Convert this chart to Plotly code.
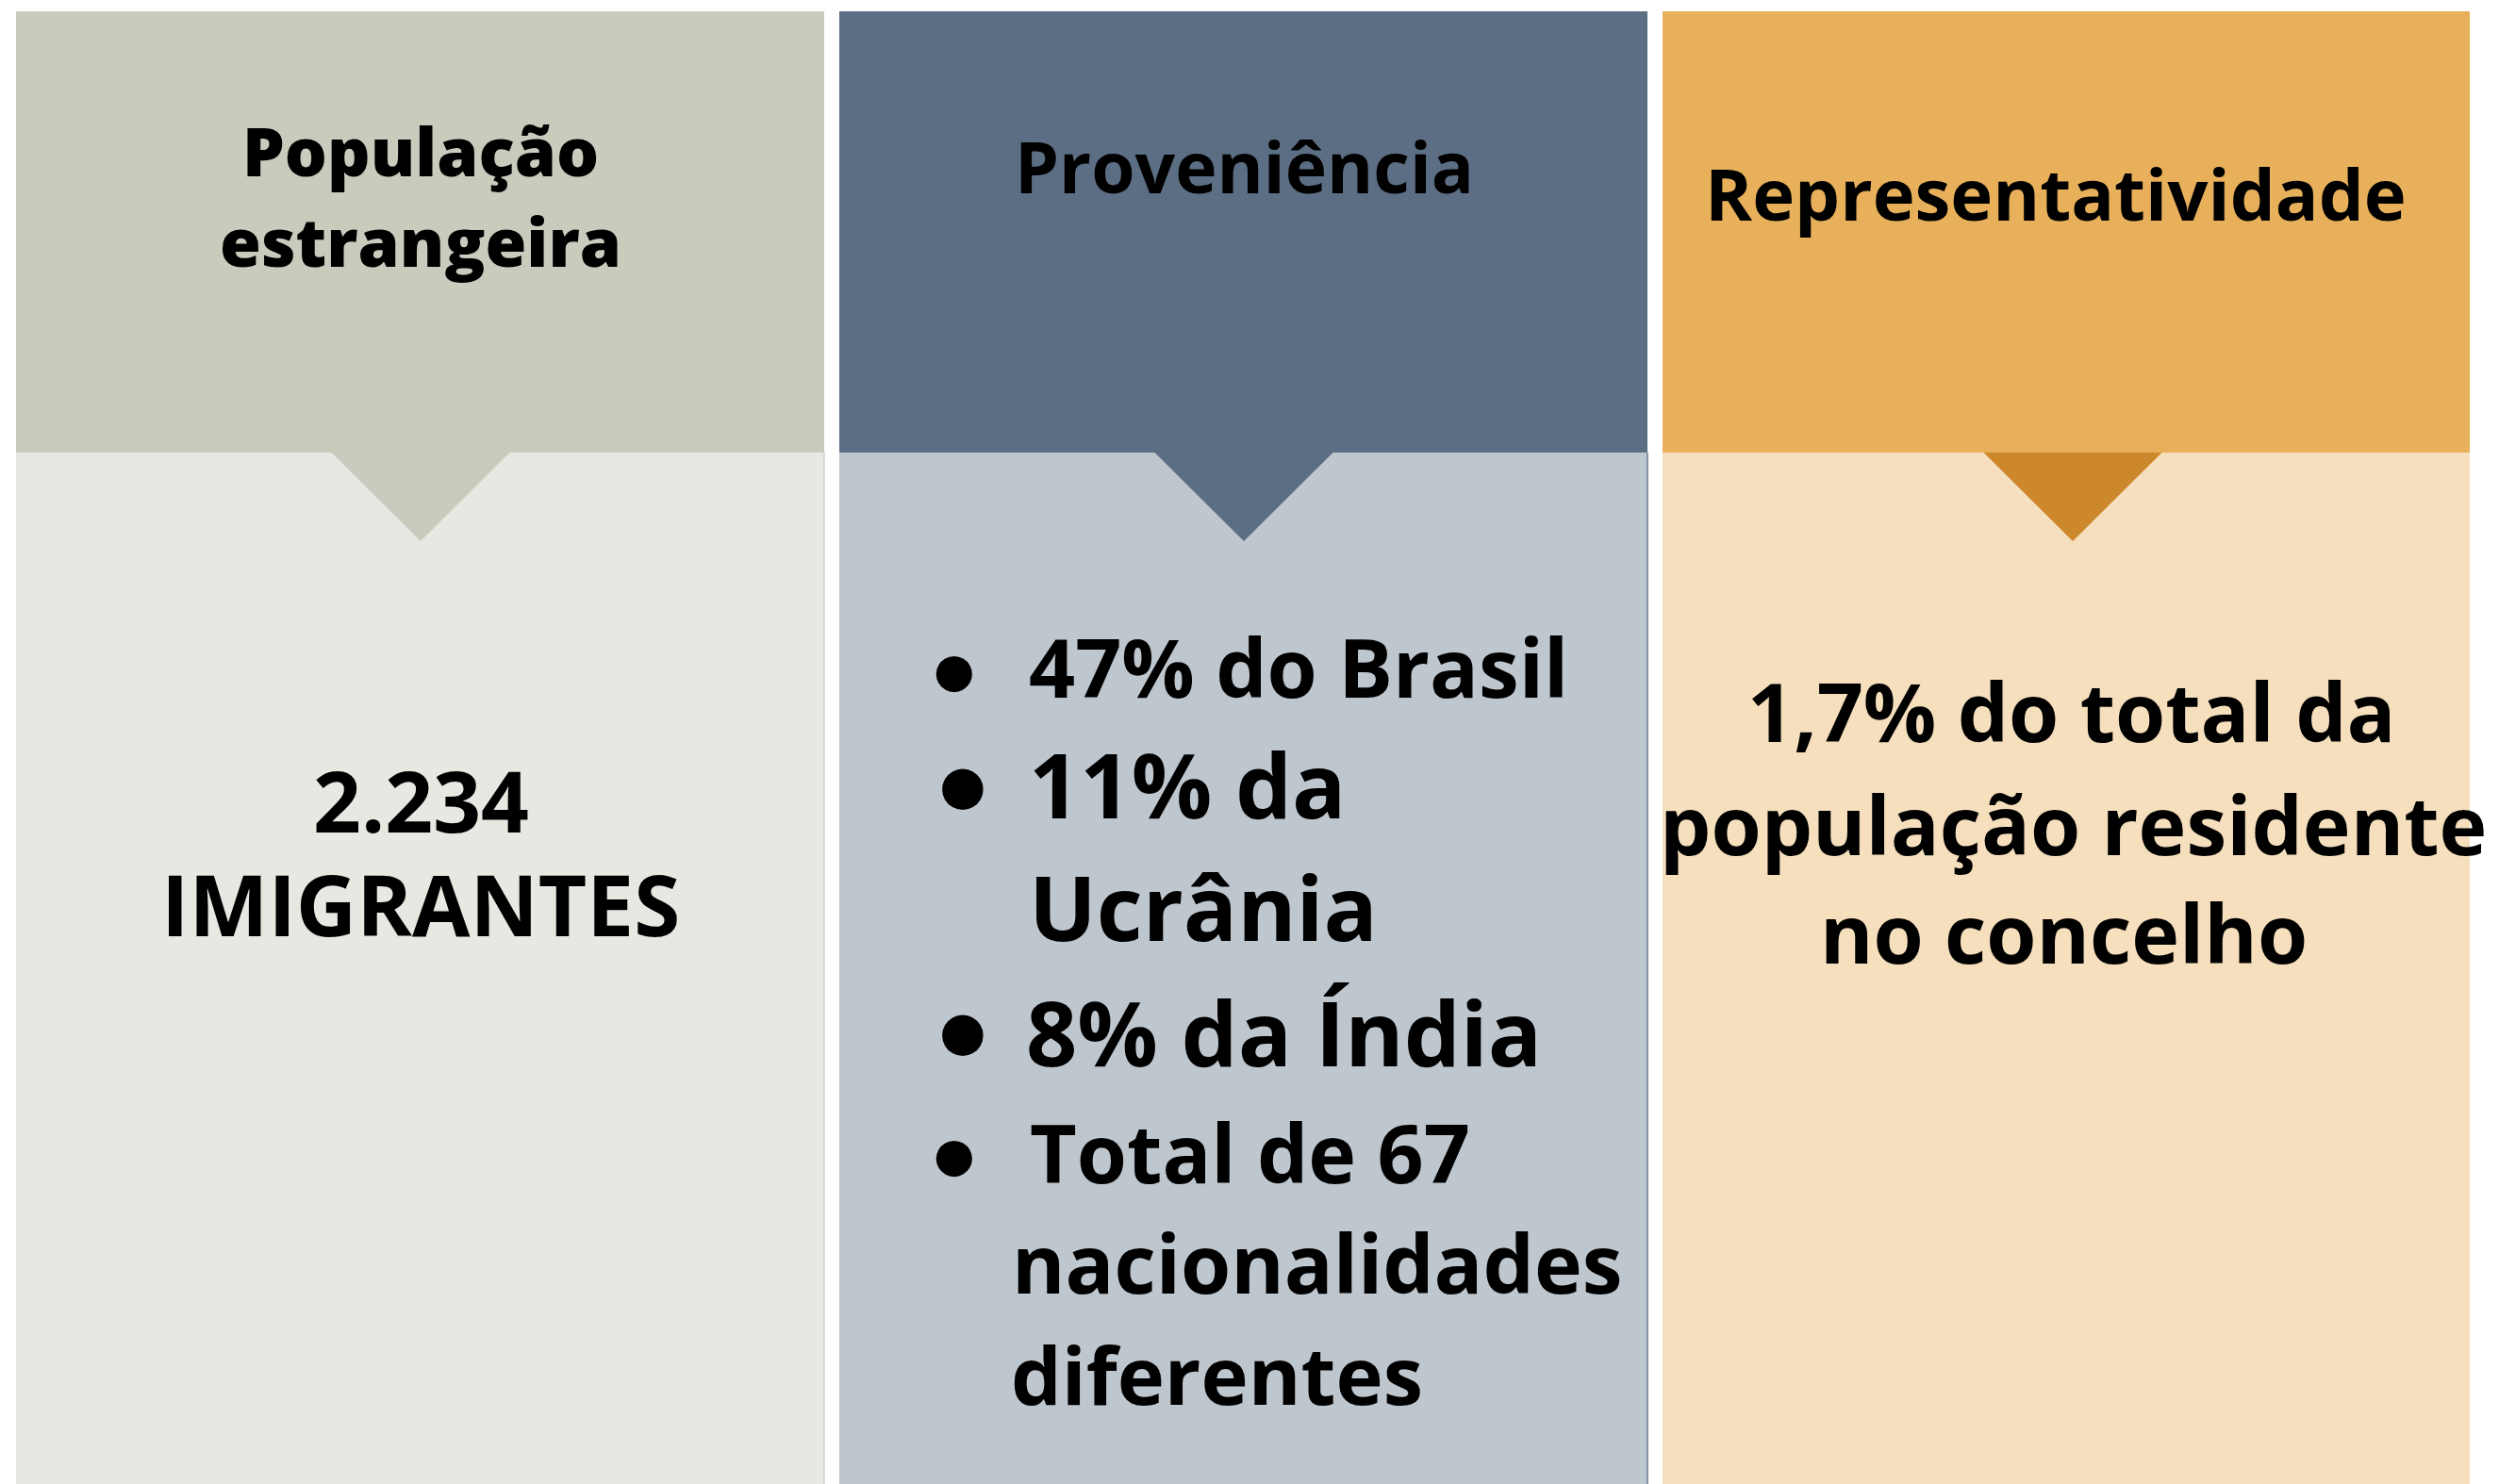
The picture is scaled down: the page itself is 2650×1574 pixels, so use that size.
import plotly.graph_objects as go

# ---------------- data (texts of the infographic) ----------------
panel_titles = [["População", "estrangeira"], ["Proveniência"], ["Representatividade"]]
imigrantes_lines = ["2.234", "IMIGRANTES"]
proveniencia_lines = ["47% do Brasil", "11% da", "Ucrânia", "8% da Índia",
                      "Total de 67", "nacionalidades", "diferentes"]
proveniencia_bullet_rows = [0, 1, 3, 4]
representatividade_lines = ["1,7% do total da", "população residente", "no concelho"]

# ---------------- layout / styling (pixel geometry) ----------------
W, H = 2650, 1574
panel_x = [(17, 874), (890, 1747), (1763, 2619)]
panel_top, header_bottom, panel_bottom = 12, 480, 1574
tri_half, tri_depth = 94.5, 94
tri_cx = [446, 1319, 2198]
header_colors = ["#C8CCBC", "#5C6E84", "#E8B05A"]
body_colors = ["#E8E8E2", "#BEC6CE", "#F5DFBD"]
tri_colors = ["#C8CCBC", "#5C6E84", "#CC882B"]
FONT = "Open Sans"
K = 0.388  # baseline offset from bbox centre, in em

def yc(baseline, size):
    return baseline - K * size

# header text placement
hdr = [
    dict(x=446, base=[187, 283], size=71, weight=800),
    dict(x=1319, base=[205], size=75, weight=700),
    dict(x=2180, base=[234], size=76, weight=700),
]
# panel 1 body
p1_x, p1_base, p1_size = 446, [883, 993], 89
# panel 2 body
p2_x = [1090, 1090, 1090, 1087, 1091, 1072, 1071]
p2_base = [740, 868, 998, 1131, 1255, 1372, 1490]
p2_size = [86, 95, 95, 95, 86, 86, 85]
bul_x = [1012, 1021, 1021, 1012]
bul_y = [711, 832, 1093, 1225]
bul_size = [50, 57, 57, 50]
BULLET = "●"
BULLET_FONT = "DejaVu Sans"
# panel 3 body
p3_x = [2197, 2198, 2188]
p3_base = [787, 907, 1022]
p3_size = 86

fig = go.Figure()
shapes = []
for i, (x0, x1) in enumerate(panel_x):
    shapes.append(dict(type="rect", x0=x0, x1=x1, y0=header_bottom, y1=panel_bottom,
                       fillcolor=body_colors[i], line=dict(width=0), layer="below"))
    shapes.append(dict(type="rect", x0=x0, x1=x1, y0=panel_top, y1=header_bottom,
                       fillcolor=header_colors[i], line=dict(width=0), layer="below"))
    c = tri_cx[i]
    shapes.append(dict(type="path",
                       path=f"M {c - tri_half},{header_bottom} L {c + tri_half},{header_bottom} L {c},{header_bottom + tri_depth} Z",
                       fillcolor=tri_colors[i], line=dict(width=0), layer="below"))
# thin edge lines on body right sides
shapes.append(dict(type="line", x0=874, x1=874, y0=header_bottom, y1=panel_bottom,
                   line=dict(color="#D2D2CC", width=1.5), layer="below"))
shapes.append(dict(type="line", x0=1747, x1=1747, y0=header_bottom, y1=panel_bottom,
                   line=dict(color="#6A7A8E", width=1.5), layer="below"))

ann = []
def add(text, x, y, size, xanchor="center", weight=700, family=FONT):
    ann.append(dict(text=text, x=x, y=y, xref="x", yref="y", showarrow=False,
                    xanchor=xanchor, yanchor="middle", borderpad=0,
                    font=dict(family=family, size=size, color="#000000", weight=weight)))

for i, lines in enumerate(panel_titles):
    h = hdr[i]
    for line, b in zip(lines, h["base"]):
        add(line, h["x"], yc(b, h["size"]), h["size"], weight=h["weight"])

for line, b in zip(imigrantes_lines, p1_base):
    add(line, p1_x, yc(b, p1_size), p1_size)

for j, line in enumerate(proveniencia_lines):
    add(line, p2_x[j], yc(p2_base[j], p2_size[j]), p2_size[j], xanchor="left")
for k, row in enumerate(proveniencia_bullet_rows):
    add(BULLET, bul_x[k], bul_y[k], bul_size[k], weight=400, family=BULLET_FONT)

for line, x, b in zip(representatividade_lines, p3_x, p3_base):
    add(line, x, yc(b, p3_size), p3_size)

fig.update_layout(
    width=W, height=H, margin=dict(l=0, r=0, t=0, b=0),
    paper_bgcolor="#FFFFFF", plot_bgcolor="#FFFFFF",
    xaxis=dict(range=[0, W], visible=False, fixedrange=True),
    yaxis=dict(range=[H, 0], visible=False, fixedrange=True),
    shapes=shapes, annotations=ann, showlegend=False,
)
fig.write_html("out.html", config={"displayModeBar": False},
               post_script="document.body.style.margin='0';document.body.style.overflow='hidden';")
